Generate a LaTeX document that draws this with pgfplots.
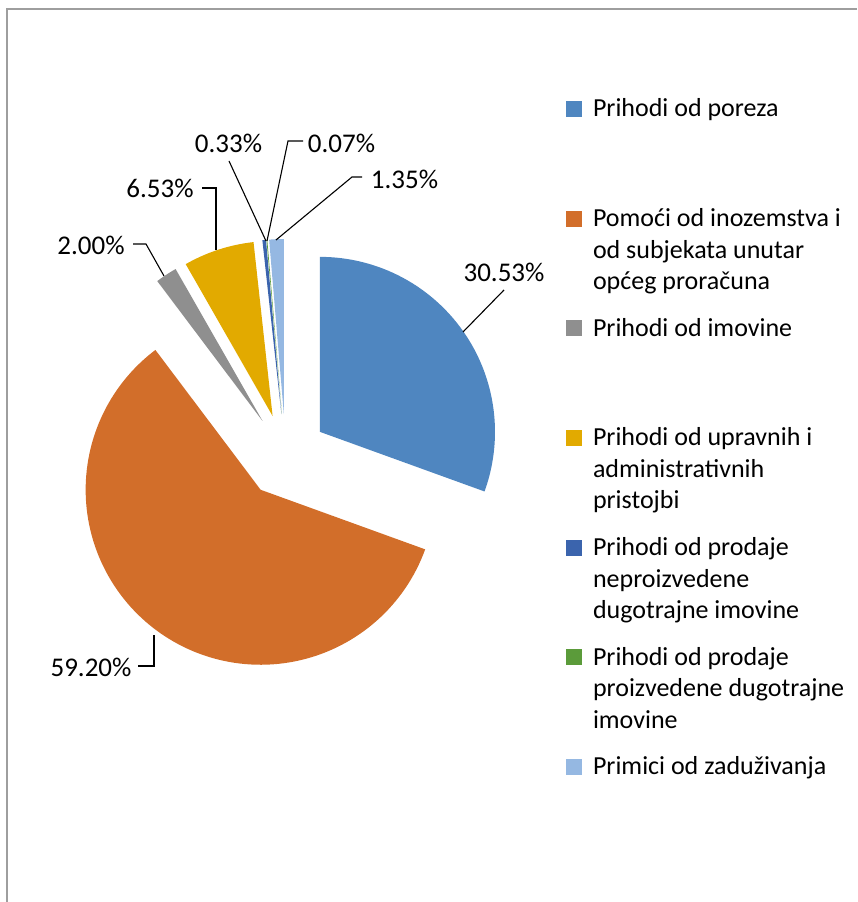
\documentclass[border=0pt]{standalone}
\usepackage{fontspec}
\setmainfont{Carlito}
\usepackage{pgfplots}
\pgfplotsset{compat=1.18}
\definecolor{cA}{HTML}{4F86C0}
\definecolor{cB}{HTML}{D26E2A}
\definecolor{cC}{HTML}{8F8F8F}
\definecolor{cD}{HTML}{E2AA00}
\definecolor{cE}{HTML}{3B64AD}
\definecolor{cF}{HTML}{5B9B3A}
\definecolor{cG}{HTML}{95B8E2}
\newcommand\pcx{285.6}
\newcommand\pcy{446}
\newcommand\pd{42}
\newcommand\pR{175}
% #1 cumulative percent before slice, #2 percent of slice, #3 colour
\newcommand\slice[3]{%
 \pgfmathsetmacro\aone{90-3.6*#1}%
 \pgfmathsetmacro\atwo{90-3.6*(#1+#2)}%
 \pgfmathsetmacro\amid{(\aone+\atwo)/2}%
 \pgfmathsetmacro\vx{\pcx+\pd*cos(\amid)}%
 \pgfmathsetmacro\vy{\pcy+\pd*sin(\amid)}%
 \edef\doslice{\noexpand\addplot[fill=#3, draw=none, domain=\atwo:\aone, samples=120, variable=\noexpand\t] ({\vx+\pR*cos(\noexpand\t)},{\vy+\pR*sin(\noexpand\t)}) -- (axis cs:\vx,\vy) -- cycle;}%
 \doslice}
\newcommand\lfont{\fontsize{26}{29.5}\selectfont}
\newcommand\pfont{\fontsize{27}{30}\selectfont}
\newcommand\entry[1]{\parbox[t]{275pt}{\fontsize{26}{31.5}\selectfont\rule{0pt}{20.65pt}#1}}
\begin{document}
\begin{tikzpicture}
\begin{axis}[x=1pt, y=1pt, xmin=0, xmax=857, ymin=0, ymax=902,
  scale only axis, hide axis, clip=false,
  legend image code/.code={\fill[#1] (0pt,0pt) rectangle (16pt,16pt);},
  legend style={draw=none, fill=none, inner sep=0pt, outer sep=0pt,
    at={(axis cs:566,805.65)}, anchor=north west,
    nodes={inner sep=0pt, outer sep=0pt},
    cells={anchor=base west},
    column sep=11pt, row sep=87.5pt, font=\lfont}]
% frame
\addplot[color=black!38, line width=2pt, forget plot] coordinates {(7,0) (7,893) (857,893)};
% slices: cumulative start, percent
\slice{0}{30.53}{cA}
\addlegendentry{\entry{Prihodi od poreza}}
\slice{30.53}{59.20}{cB}
\addlegendentry{\entry{Pomoći od inozemstva i\\od subjekata unutar\\općeg proračuna}}
\slice{89.73}{2.00}{cC}
\addlegendentry{\entry{Prihodi od imovine}}
\slice{91.73}{6.53}{cD}
\addlegendentry{\entry{Prihodi od upravnih i\\administrativnih\\pristojbi}}
\slice{98.26}{0.33}{cE}
\addlegendentry{\entry{Prihodi od prodaje\\neproizvedene\\dugotrajne imovine}}
\slice{98.59}{0.07}{cF}
\addlegendentry{\entry{Prihodi od prodaje\\proizvedene dugotrajne\\imovine}}
\slice{98.66}{1.35}{cG}
\addlegendentry{\entry{Primici od zaduživanja}}
% leader lines
\addplot[black, line width=1.1pt, forget plot] coordinates {(463,570) (504,612)};
\addplot[black, line width=1.1pt, forget plot] coordinates {(138,236) (154,236) (154,267)};
\addplot[black, line width=1.1pt, forget plot] coordinates {(133,658) (146,658) (164,626)};
\addplot[black, line width=1.1pt, forget plot] coordinates {(202,714) (216,714) (216,652)};
\addplot[black, line width=1.1pt, forget plot] coordinates {(229,741) (266,661)};
\addplot[black, line width=1.1pt, forget plot] coordinates {(303,761) (288,761) (267,661)};
\addplot[black, line width=1.1pt, forget plot] coordinates {(362,725) (352,725) (276,662)};
% data labels
\node[font=\pfont, inner sep=0pt] at (axis cs:504,630) {30.53\%};
\node[font=\pfont, inner sep=0pt] at (axis cs:91,235) {59.20\%};
\node[font=\pfont, inner sep=0pt] at (axis cs:91,657) {2.00\%};
\node[font=\pfont, inner sep=0pt] at (axis cs:160,714) {6.53\%};
\node[font=\pfont, inner sep=0pt] at (axis cs:228.5,759) {0.33\%};
\node[font=\pfont, inner sep=0pt] at (axis cs:341.5,759) {0.07\%};
\node[font=\pfont, inner sep=0pt] at (axis cs:404.5,723) {1.35\%};
\end{axis}
\pgfresetboundingbox
\path[use as bounding box] (0,0) rectangle (857pt,902pt);
\end{tikzpicture}
\end{document}
